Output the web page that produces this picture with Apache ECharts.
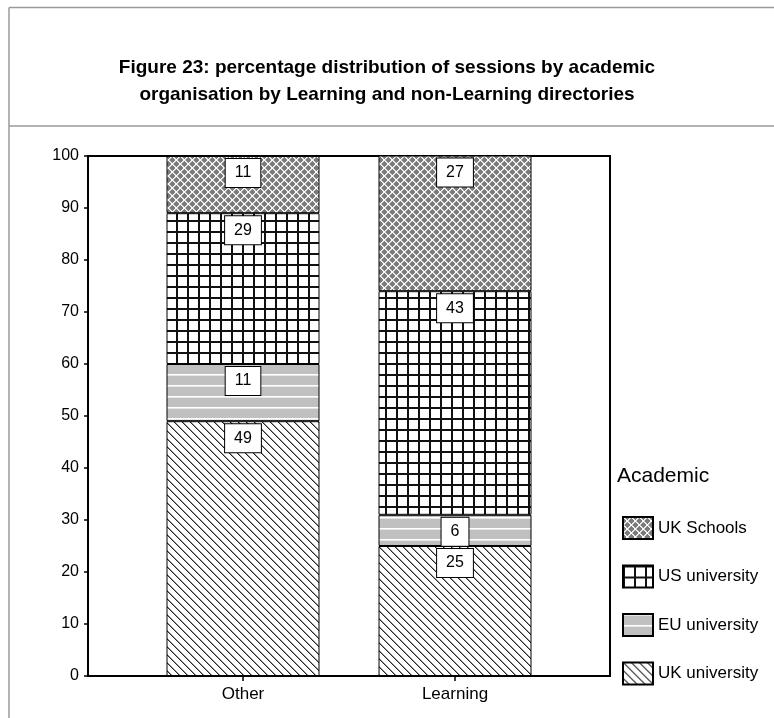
<!DOCTYPE html>
<html>
<head>
<meta charset="utf-8">
<script src="https://cdn.jsdelivr.net/npm/echarts@6/dist/echarts.min.js"></script>
<style>
  html, body { margin: 0; padding: 0; background: #fff; }
  #chart { width: 774px; height: 718px; }
</style>
</head>
<body>
<div id="chart"></div>
<script>
// Session shares (%) per academic organisation type
const categories = ['Other', 'Learning'];
const ukUniversity = [49, 25];
const euUniversity = [11, 6];
const usUniversity = [29, 43];
const ukSchools = [11, 27];
const legendOrder = ['UK Schools', 'US university', 'EU university', 'UK university'];

const FONT = 'Liberation Sans, Arial, sans-serif';

// Small canvas tiles used as repeating hatch fills
function tile(w, h, draw) {
  const c = document.createElement('canvas');
  c.width = w; c.height = h;
  const ctx = c.getContext('2d');
  draw(ctx, w, h);
  return { image: c, repeat: 'repeat' };
}

// diagonal "\\\" hatch on white
const hatchDiag = tile(8, 8, (ctx, w, h) => {
  ctx.fillStyle = '#fff'; ctx.fillRect(0, 0, w, h);
  ctx.fillStyle = '#222';
  for (let i = 0; i < w; i++) ctx.fillRect(i, i, 1, 1);
  ctx.fillStyle = '#9a9a9a';
  for (let i = 0; i < w; i++) ctx.fillRect((i + 1) % w, i, 1, 1);
});

// light grey with white horizontal stripes
const hatchStripe = tile(4, 11, (ctx, w, h) => {
  ctx.fillStyle = '#c0c0c0'; ctx.fillRect(0, 0, w, h);
  ctx.fillStyle = '#ffffff'; ctx.fillRect(0, 0, w, 1);
  ctx.fillStyle = '#e6e6e6'; ctx.fillRect(0, 1, w, 1);
});

// square grid on white
const hatchGrid = tile(11, 11, (ctx, w, h) => {
  ctx.fillStyle = '#fff'; ctx.fillRect(0, 0, w, h);
  ctx.fillStyle = '#111';
  ctx.fillRect(0, 0, 2, h);
  ctx.fillRect(0, 0, w, 2);
});

// mid grey with a white diamond lattice
const hatchLattice = tile(8, 8, (ctx, w, h) => {
  ctx.fillStyle = '#7c7c7c'; ctx.fillRect(0, 0, w, h);
  ctx.fillStyle = '#cfcfcf';
  for (let i = 0; i < w; i++) {
    ctx.fillRect((i + 1) % w, i, 1, 1);
    ctx.fillRect((w - i) % w, i, 1, 1);
  }
  ctx.fillStyle = '#ffffff';
  for (let i = 0; i < w; i++) {
    ctx.fillRect(i, i, 1, 1);
    ctx.fillRect(w - 1 - i, i, 1, 1);
  }
});

const barLabel = {
  show: true,
  position: 'insideTop',
  distance: 3,
  color: '#000',
  fontFamily: FONT,
  fontSize: 16,
  lineHeight: 18,
  backgroundColor: '#fff',
  borderColor: '#000',
  borderWidth: 1,
  padding: [5, 9, 5, 9],
  formatter: p => String(p.value)
};

function stackSeries(name, values, fill) {
  return {
    name: name,
    type: 'bar',
    stack: 'total',
    xAxisIndex: 1,
    yAxisIndex: 1,
    barWidth: 153,
    data: values,
    itemStyle: { color: fill, borderColor: '#000', borderWidth: 1 },
    label: barLabel,
    emphasis: { disabled: true }
  };
}

const chart = echarts.init(document.getElementById('chart'), null, { renderer: 'canvas' });

chart.setOption({
  animation: false,
  backgroundColor: '#fff',
  textStyle: { fontFamily: FONT },
  title: [
    {
      text: 'Figure 23: percentage distribution of sessions by academic\norganisation by Learning and non-Learning directories',
      left: 'center',
      top: 54,
      padding: 0,
      textStyle: { fontFamily: FONT, fontSize: 19, fontWeight: 'bold', color: '#000', lineHeight: 27, align: 'center' }
    },
    {
      text: 'Academic',
      left: 617,
      top: 466,
      padding: 0,
      textStyle: { fontFamily: FONT, fontSize: 21, fontWeight: 'normal', color: '#000' }
    }
  ],
  graphic: [
    { type: 'line', shape: { x1: 9, y1: 7.5, x2: 774, y2: 7.5 }, style: { stroke: '#9a9a9a', lineWidth: 1.5 } },
    { type: 'line', shape: { x1: 9, y1: 7.5, x2: 9, y2: 718 }, style: { stroke: '#9a9a9a', lineWidth: 1.5 } },
    { type: 'line', shape: { x1: 9, y1: 126, x2: 774, y2: 126 }, style: { stroke: '#9a9a9a', lineWidth: 1.5 } }
  ],
  legend: {
    orient: 'vertical',
    left: 622,
    top: 516,
    padding: 0,
    itemWidth: 30,
    itemHeight: 22,
    itemGap: 24.5,
    icon: 'rect',
    data: legendOrder,
    selectedMode: false,
    textStyle: { fontFamily: FONT, fontSize: 17, color: '#000' }
  },
  grid: [
    { left: 88, top: 156, width: 522, height: 520, show: true, borderColor: '#000', borderWidth: 2, backgroundColor: 'transparent' },
    { left: 137, top: 156, width: 424, height: 520 }
  ],
  xAxis: [
    {
      type: 'category', gridIndex: 0, data: [''],
      axisLine: { show: true, lineStyle: { color: '#000', width: 2 } },
      axisTick: { show: false }, axisLabel: { show: false }, splitLine: { show: false }
    },
    {
      type: 'category', gridIndex: 1, data: categories,
      axisLine: { show: false },
      axisTick: { show: true, alignWithLabel: true, length: 5, lineStyle: { color: '#000', width: 1.5 } },
      axisLabel: { color: '#000', fontFamily: FONT, fontSize: 17, margin: 10 },
      splitLine: { show: false }
    }
  ],
  yAxis: [
    {
      type: 'value', gridIndex: 0, min: 0, max: 100, interval: 10,
      axisLine: { show: true, lineStyle: { color: '#000', width: 2 } },
      axisTick: { show: true, length: 4, lineStyle: { color: '#000', width: 1.5 } },
      axisLabel: { color: '#000', fontFamily: FONT, fontSize: 16, margin: 9 },
      splitLine: { show: false }
    },
    {
      type: 'value', gridIndex: 1, min: 0, max: 100, interval: 10, show: false,
      splitLine: { show: false }
    }
  ],
  series: [
    stackSeries('UK university', ukUniversity, hatchDiag),
    stackSeries('EU university', euUniversity, hatchStripe),
    stackSeries('US university', usUniversity, hatchGrid),
    stackSeries('UK Schools', ukSchools, hatchLattice)
  ]
});
</script>
</body>
</html>
